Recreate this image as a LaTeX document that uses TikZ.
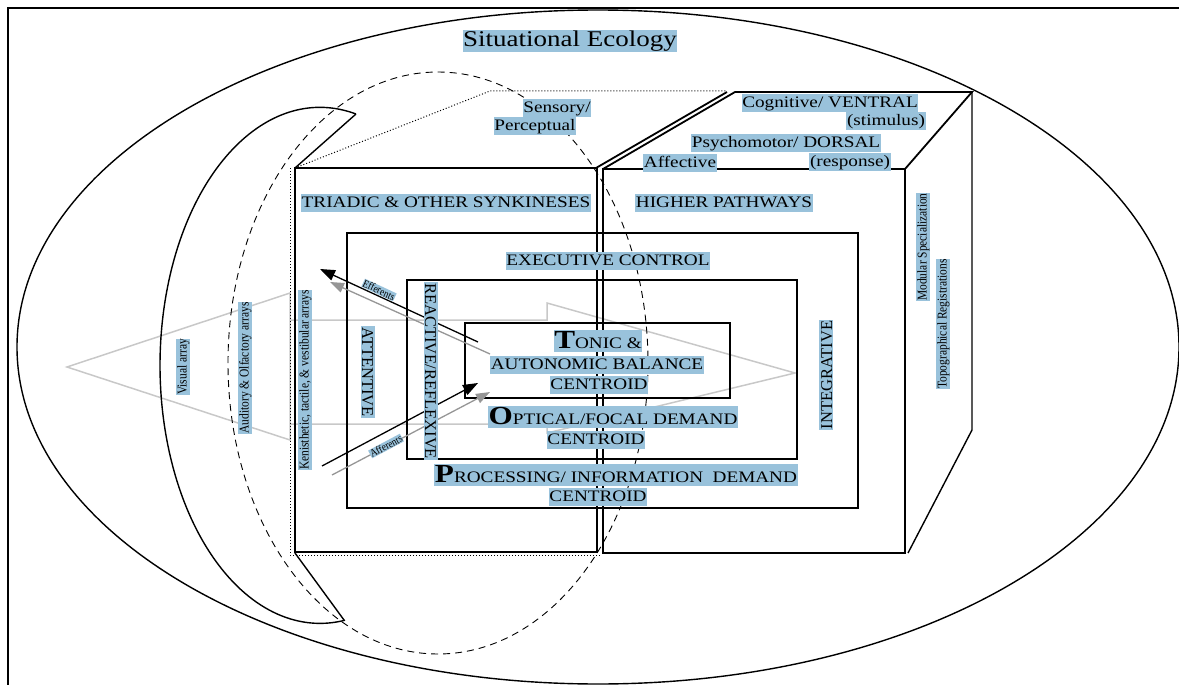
\documentclass[tikz,border=0pt]{standalone}
\usepackage{fontspec}
\setmainfont[FakeStretch=1.2]{Liberation Serif}
\newfontfamily\uprightserif{Liberation Serif}
\newfontfamily\narrowserif[FakeStretch=0.85]{Liberation Serif}
\usetikzlibrary{arrows.meta}

\definecolor{hilite}{RGB}{153,194,219}
\definecolor{arrayline}{RGB}{200,200,200}
\definecolor{flowgray}{RGB}{150,150,150}

\begin{document}
\begin{tikzpicture}[x=1pt, y=-1pt, thick,
  tag/.style={fill=hilite, inner sep=0.6pt, text height=12.5pt, text depth=3.5pt,
    font=\fontsize{16}{18}\selectfont},
  bigtag/.style={tag, text height=17.5pt},
  vtag/.style={fill=hilite, inner sep=0.6pt, text height=12pt, text depth=0pt,
    font=\uprightserif\fontsize{16.5}{18}\selectfont},
  sidetag/.style={fill=hilite, inner sep=0.6pt, text height=9.5pt, text depth=2.5pt,
    font=\narrowserif\fontsize{13.5}{15}\selectfont},
  flowtag/.style={fill=hilite, inner sep=0.4pt, font=\narrowserif\fontsize{11}{12}\selectfont},
  efferent/.style={-{Triangle[length=15pt,width=11pt]}, line width=1.3pt},
  afferent/.style={-{Triangle[length=14pt,width=10pt]}, flowgray, line width=1.3pt}]
  \useasboundingbox (0,0) rectangle (1179,685);

  \coordinate (LTL) at (295,168);
  \coordinate (LBL) at (295,553);
  \coordinate (CTop) at (356,114);
  \coordinate (CBot) at (344,620);
  \coordinate (Back) at (972,92);

  % frame and situational ecology
  \draw[line width=2pt] (8,685) -- (8,8) -- (1179,8);
  \draw[line width=1.4pt] (598,347) ellipse[x radius=581, y radius=337];

  % arrays (grey outline)
  \draw[arrayline, line width=1.5pt] (67,367) -- (290,293) -- (290,440) -- cycle;
  \draw[arrayline, line width=1.5pt] (290,320) -- (547,320) -- (547,303) -- (795,373)
    -- (547,433) -- (547,424) -- (290,424);

  % sensory field
  \draw[line width=0.9pt, dash pattern=on 7pt off 5pt] (438,363) ellipse[x radius=210, y radius=291];

  % crescent
  \draw[line width=1.4pt] (CTop) arc[start angle=-77, end angle=-279, x radius=160, y radius=258];
  \draw[line width=1.4pt] (CTop) -- (LTL);
  \draw[line width=1.4pt] (CBot) -- (LBL);

  % hidden edges
  \draw[dotted, line width=1pt] (LTL) -- (490,91) -- (727,91);
  \draw[dotted, line width=1pt] (290,168) -- (290,555) -- (600,555);

  % boxes
  \draw[line width=2.2pt] (LTL) rectangle (597,552);
  \draw[line width=2.2pt] (603,169) rectangle (905,553);
  \draw[line width=1.8pt] (347,233) rectangle (858,508);
  \draw[line width=2.8pt] (407,280) rectangle (797,459);
  \draw[line width=2.8pt] (465,323) rectangle (730,398);

  % top and side faces
  \draw[line width=1.8pt] (596,168) -- (727,92);
  \draw[line width=1.8pt] (603,169) -- (735,92) -- (Back) -- (905,169);
  \draw[line width=1.4pt] (Back) -- (972,430) -- (908,553);

  % efferents / afferents
  \coordinate (ef1) at (478,342);  \coordinate (ef1t) at (320,269);
  \coordinate (ef2) at (490,354);  \coordinate (ef2t) at (330,282);
  \coordinate (af1) at (322,466);  \coordinate (af1t) at (478,383);
  \coordinate (af2) at (332,475);  \coordinate (af2t) at (490,392);
  \draw[efferent] (ef1) -- (ef1t);
  \draw[afferent] (ef2) -- (ef2t);
  \draw[efferent] (af1) -- (af1t);
  \draw[afferent] (af2) -- (af2t);
  \node[flowtag, rotate=-25] (eff) at (379,290) {Efferents};
  \node[flowtag, rotate=28] (aff) at (386,446) {Afferents};

  % labels
  \node[tag, text height=16pt, text depth=5pt, font=\fontsize{22.5}{25}\selectfont] (title) at (570,41) {Situational Ecology};
  \node[tag] (sens) at (557,108) {Sensory/};
  \node[tag] (perc) at (535,126) {Perceptual};
  \node[tag] (cogn) at (830,103) {Cognitive/ VENTRAL};
  \node[tag] (stim) at (886,121) {(stimulus)};
  \node[tag] (psych) at (786,143) {Psychomotor/ DORSAL};
  \node[tag] (affect) at (680,163) {Affective};
  \node[tag] (resp) at (850,162) {(response)};

  \node[tag] (triadic) at (446,203) {TRIADIC \& OTHER SYNKINESES};
  \node[tag] (higher) at (724,203) {HIGHER PATHWAYS};
  \node[tag] (exec) at (608,261) {EXECUTIVE CONTROL};
  \node[bigtag] (tonic) at (598,341) {{\bfseries\fontsize{26}{26}\selectfont T}ONIC \&};
  \node[tag] (auto) at (597,365) {AUTONOMIC BALANCE};
  \node[tag] (cent1) at (599,385) {CENTROID};
  \node[bigtag] (optic) at (613,417) {{\bfseries\fontsize{26}{26}\selectfont O}PTICAL/FOCAL DEMAND};
  \node[tag] (cent2) at (596,440) {CENTROID};
  \node[bigtag] (proc) at (616,475) {{\bfseries\fontsize{26}{26}\selectfont P}ROCESSING/ INFORMATION\ \ DEMAND};
  \node[tag] (cent3) at (598,497) {CENTROID};

  \node[vtag, rotate=-90] (atten) at (368,372) {ATTENTIVE};
  \node[vtag, rotate=-90] (react) at (431,371) {REACTIVE/REFLEXIVE};
  \node[vtag, rotate=90] (integ) at (826,375) {INTEGRATIVE};

  \node[sidetag, rotate=90] (visual) at (183,367) {Visual array};
  \node[sidetag, rotate=90] (audit) at (245,368) {Auditory \& Olfactory arrays};
  \node[sidetag, rotate=90] (kenis) at (305,380) {Kenisthetic, tactile, \& vestibular arrays};
  \node[sidetag, rotate=90] (modul) at (923,247) {Modular Specialization};
  \node[sidetag, rotate=90] (topo) at (943,324) {Topographical Registrations};
\end{tikzpicture}
\end{document}
